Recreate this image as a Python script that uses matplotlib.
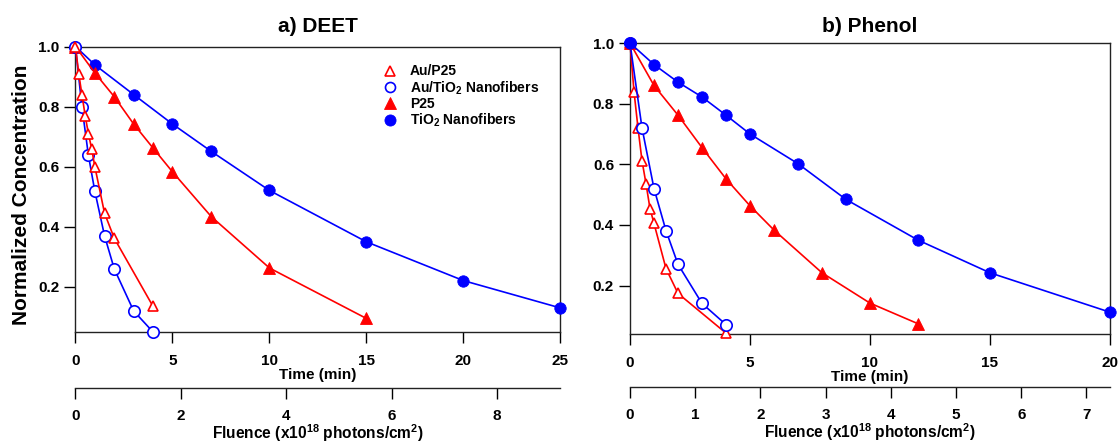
import matplotlib
matplotlib.use('Agg')
import matplotlib.pyplot as plt
from matplotlib.lines import Line2D

plt.rcParams['font.family'] = ['Liberation Sans', 'DejaVu Sans']
plt.rcParams['font.weight'] = 'bold'
plt.rcParams['mathtext.fontset'] = 'custom'
plt.rcParams['mathtext.rm'] = 'Liberation Sans:bold'
plt.rcParams['mathtext.bf'] = 'Liberation Sans:bold'
plt.rcParams['mathtext.it'] = 'Liberation Sans:bold'
plt.rcParams['mathtext.default'] = 'rm'

# ---------------- data ----------------
FLUENCE_PER_MIN = 0.368  # x10^18 photons/cm^2 per minute

series_labels = ['Au/P25', 'Au/TiO$_2$ Nanofibers', 'P25', 'TiO$_2$ Nanofibers']

deet_au_p25_t = [0, 0.167, 0.333, 0.5, 0.667, 0.833, 1.0, 1.5, 2.0, 4.0]
deet_au_p25_c = [1.0, 0.91, 0.84, 0.77, 0.71, 0.66, 0.60, 0.445, 0.362, 0.135]
deet_au_tio2_t = [0, 0.333, 0.667, 1.0, 1.5, 2.0, 3.0, 4.0]
deet_au_tio2_c = [1.0, 0.80, 0.638, 0.518, 0.37, 0.26, 0.12, 0.05]
deet_p25_t = [0, 1, 2, 3, 4, 5, 7, 10, 15]
deet_p25_c = [1.0, 0.912, 0.833, 0.742, 0.662, 0.583, 0.434, 0.263, 0.095]
deet_tio2_t = [0, 1, 3, 5, 7, 10, 15, 20, 25]
deet_tio2_c = [1.0, 0.939, 0.84, 0.742, 0.651, 0.521, 0.35, 0.221, 0.13]

phenol_au_p25_t = [0, 0.167, 0.333, 0.5, 0.667, 0.833, 1.0, 1.5, 2.0, 4.0]
phenol_au_p25_c = [1.0, 0.84, 0.72, 0.612, 0.536, 0.454, 0.405, 0.256, 0.174, 0.043]
phenol_au_tio2_t = [0, 0.5, 1.0, 1.5, 2.0, 3.0, 4.0]
phenol_au_tio2_c = [1.0, 0.72, 0.52, 0.381, 0.27, 0.141, 0.071]
phenol_p25_t = [0, 1, 2, 3, 4, 5, 6, 8, 10, 12]
phenol_p25_c = [1.0, 0.86, 0.762, 0.655, 0.552, 0.463, 0.383, 0.242, 0.142, 0.074]
phenol_tio2_t = [0, 1, 2, 3, 4, 5, 7, 9, 12, 15, 20]
phenol_tio2_c = [1.0, 0.929, 0.871, 0.822, 0.762, 0.70, 0.602, 0.484, 0.35, 0.242, 0.112]

y_ticks = [0.2, 0.4, 0.6, 0.8, 1.0]
deet_time_ticks = [0, 5, 10, 15, 20, 25]
phenol_time_ticks = [0, 5, 10, 15, 20]
deet_fluence_ticks = [0, 2, 4, 6, 8]
phenol_fluence_ticks = [0, 1, 2, 3, 4, 5, 6, 7]

RED = '#ff0000'
BLUE = '#0000ff'

styles = {
    'au_p25': dict(color=RED, marker='^', mfc='white', mec=RED, ms=7.2, mew=1.2, lw=1.2),
    'au_tio2': dict(color=BLUE, marker='o', mfc='white', mec=BLUE, ms=8.2, mew=1.2, lw=1.2),
    'p25': dict(color=RED, marker='^', mfc=RED, mec=RED, ms=8.0, mew=0.6, lw=1.2),
    'tio2': dict(color=BLUE, marker='o', mfc=BLUE, mec=BLUE, ms=8.2, mew=0.6, lw=1.2),
}

fig = plt.figure(figsize=(11.18, 4.45), dpi=100)
axL = fig.add_axes([0.0675, 0.2539, 0.4338, 0.6416])
axR = fig.add_axes([0.5635, 0.2494, 0.4293, 0.6539])


def style_axis(ax, xlim, ylim, xticks, fticks, sec_loc, title, title_pad):
    ax.set_xlim(*xlim)
    ax.set_ylim(*ylim)
    ax.set_xticks(xticks)
    ax.set_yticks(y_ticks)
    ax.set_yticklabels([f'{v:.1f}' for v in y_ticks])
    ax.tick_params(axis='both', direction='out', length=8, width=1.0, labelsize=11)
    ax.tick_params(axis='x', pad=7.5)
    ax.tick_params(axis='y', pad=3.5)
    ax.tick_params(top=False, right=False)
    for s in ax.spines.values():
        s.set_linewidth(1.0)
        s.set_color('#222222')
    ax.set_xlabel('Time (min)', fontsize=11, fontweight='bold', labelpad=0.3)
    ax.set_title(title, fontsize=15, fontweight='bold', pad=title_pad)
    sec = ax.secondary_xaxis(sec_loc, functions=(lambda t: t * FLUENCE_PER_MIN,
                                                  lambda f: f / FLUENCE_PER_MIN))
    sec.set_xticks(fticks)
    sec.tick_params(direction='out', length=8, width=1.0, labelsize=11, pad=7)
    sec.spines['bottom'].set_linewidth(1.0)
    sec.spines['bottom'].set_color('#222222')
    sec.set_xlabel('Fluence (x10$^{18}$ photons/cm$^2$)', fontsize=11.2,
                   fontweight='bold', labelpad=-0.5)
    return sec


# ---- DEET ----
axL.plot(deet_tio2_t, deet_tio2_c, clip_on=False, zorder=3, **styles['tio2'])
axL.plot(deet_p25_t, deet_p25_c, clip_on=False, zorder=4, **styles['p25'])
axL.plot(deet_au_tio2_t, deet_au_tio2_c, clip_on=False, zorder=5, **styles['au_tio2'])
axL.plot(deet_au_p25_t, deet_au_p25_c, clip_on=False, zorder=6, **styles['au_p25'])
style_axis(axL, (0, 25), (0.05, 1.0), deet_time_ticks, deet_fluence_ticks, -0.196,
           'a) DEET', 10.5)
axL.set_ylabel('Normalized Concentration', fontsize=15, fontweight='bold')
axL.yaxis.set_label_coords(-0.091, 0.48)

handles = [
    Line2D([], [], linestyle='none', marker='^', mfc='white', mec=RED, ms=7.2, mew=1.2),
    Line2D([], [], linestyle='none', marker='o', mfc='white', mec=BLUE, ms=7.2, mew=1.2),
    Line2D([], [], linestyle='none', marker='^', mfc=RED, mec=RED, ms=8.0, mew=0.6),
    Line2D([], [], linestyle='none', marker='o', mfc=BLUE, mec=BLUE, ms=8.0, mew=0.6),
]
axL.legend(handles, series_labels, loc='upper left', bbox_to_anchor=(0.634, 0.937),
           frameon=False, handlelength=1.0, handletextpad=0.95,
           labelspacing=0.05, borderpad=0, borderaxespad=0,
           prop={'weight': 'bold', 'size': 10})

# ---- Phenol ----
axR.plot(phenol_au_p25_t, phenol_au_p25_c, clip_on=False, zorder=3, **styles['au_p25'])
axR.plot(phenol_au_tio2_t, phenol_au_tio2_c, clip_on=False, zorder=4, **styles['au_tio2'])
axR.plot(phenol_p25_t, phenol_p25_c, clip_on=False, zorder=5, **styles['p25'])
axR.plot(phenol_tio2_t, phenol_tio2_c, clip_on=False, zorder=6, **styles['tio2'])
style_axis(axR, (0, 20), (0.04, 1.0), phenol_time_ticks, phenol_fluence_ticks, -0.182,
           'b) Phenol', 8)

fig.savefig('out.png', dpi=100)
